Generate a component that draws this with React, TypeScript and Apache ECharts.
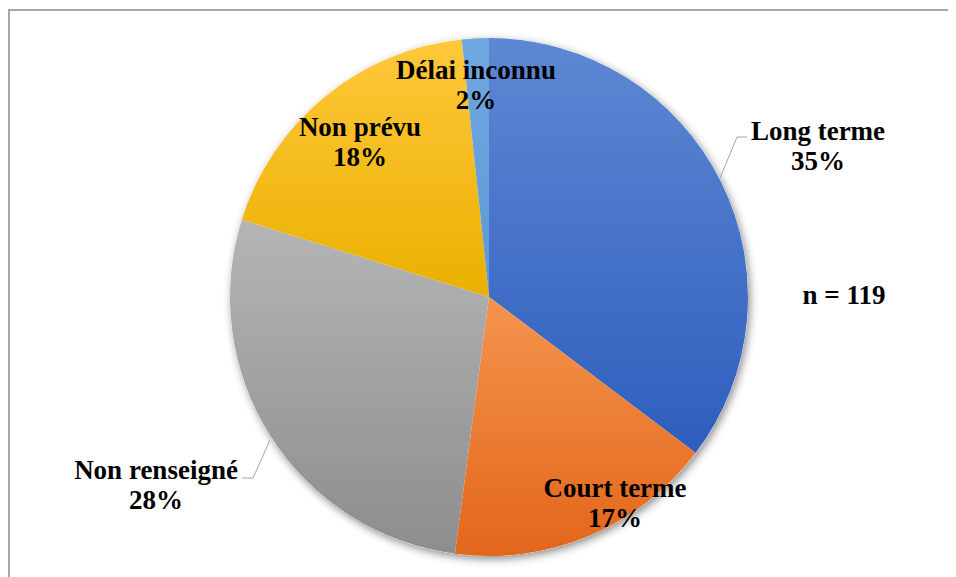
import React, { useEffect, useRef } from "react";
import * as echarts from "echarts";

const categories = ["Long terme", "Court terme", "Non renseigné", "Non prévu", "Délai inconnu"];
const counts = [42, 20, 33, 22, 2];
const totalLabel = "n = 119";

const gradients = [
  ["#5D88D3", "#2E5EBE"],
  ["#F5944E", "#E2661A"],
  ["#B5B5B5", "#8D8D8D"],
  ["#FFC83A", "#EAB000"],
  ["#70A8E0", "#5E98D6"],
];

// label layout (chart coordinates)
const labelCenters: [number, number][] = [
  [810, 138],
  [607, 495],
  [148, 477],
  [352, 134],
  [468, 77],
];
const labelLines: ([number, number][] | null)[] = [
  [[712, 170], [729, 129], [739, 129]],
  null,
  [[262, 432], [245, 470], [234, 470]],
  null,
  null,
];

const FONT = "'Liberation Serif', 'Times New Roman', serif";

export default function App() {
  const ref = useRef<HTMLDivElement>(null);
  useEffect(() => {
    if (!ref.current) return;
    const chart = echarts.init(ref.current, undefined, { renderer: "svg" });
    chart.setOption({
      animation: false,
      backgroundColor: "#ffffff",
      textStyle: { fontFamily: FONT },
      graphic: [
        {
          type: "rect",
          shape: { x: 1, y: 2, width: 1000, height: 1000 },
          style: { fill: "none", stroke: "#A6A6A6", lineWidth: 2 },
          z: 0,
        },
        {
          type: "text",
          x: 836,
          y: 287,
          style: {
            text: totalLabel,
            fontFamily: FONT,
            fontWeight: "bold",
            fontSize: 27,
            fill: "#000",
            align: "center",
            verticalAlign: "middle",
          },
        },
      ],
      series: [
        {
          type: "pie",
          silent: true,
          center: [481, 289],
          radius: [0, 259],
          label: { show: false },
          labelLine: { show: false },
          itemStyle: {
            color: "#ffffff",
            shadowBlur: 8,
            shadowOffsetX: 2,
            shadowOffsetY: 3,
            shadowColor: "rgba(0,0,0,0.45)",
          },
          data: [{ value: 1, name: "" }],
          z: 1,
        },
        {
          type: "pie",
          center: [481, 289],
          radius: [0, 259],
          startAngle: 90,
          clockwise: true,
          z: 2,
          label: {
            show: true,
            position: "outside",
            formatter: (p: any) => `${p.name}\n${Math.round(p.percent)}%`,
            fontFamily: FONT,
            fontWeight: "bold",
            fontSize: 27,
            lineHeight: 30,
            color: "#000",
            align: "center",
          },
          labelLine: {
            show: true,
            lineStyle: { color: "#A6A6A6", width: 1 },
          },
          labelLayout: (params: any) => {
            const i = params.dataIndex;
            const c = labelCenters[i];
            const res: any = {
              x: c[0],
              y: c[1],
              align: "center",
              verticalAlign: "middle",
            };
            if (labelLines[i]) res.labelLinePoints = labelLines[i];
            return res;
          },
          data: categories.map((name, i) => ({
            name,
            value: counts[i],
            itemStyle: {
              color: new echarts.graphic.LinearGradient(0, 0, 0, 1, [
                { offset: 0, color: gradients[i][0] },
                { offset: 1, color: gradients[i][1] },
              ]),
            },
            labelLine: { show: !!labelLines[i] },
          })),
        },
      ],
    });
    return () => chart.dispose();
  }, []);
  return <div ref={ref} style={{ width: 948, height: 569 }} />;
}
